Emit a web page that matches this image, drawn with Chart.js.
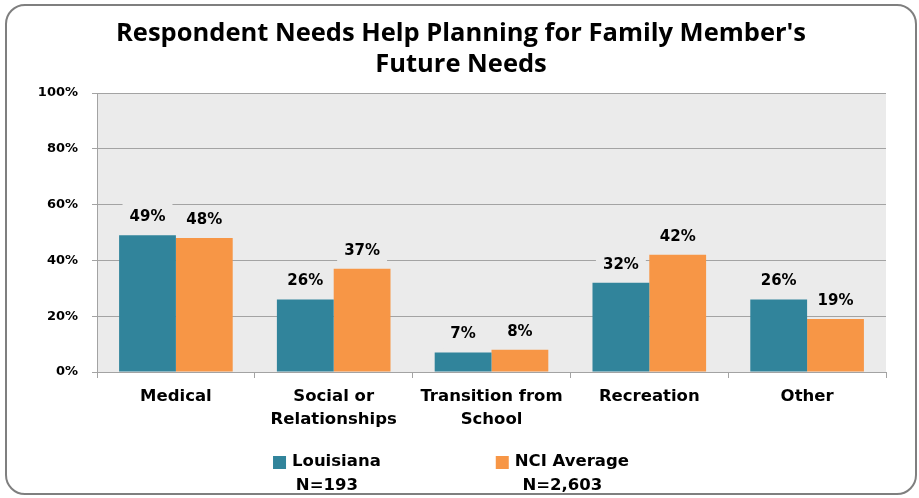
<!DOCTYPE html>
<html><head><meta charset="utf-8">
<script src="https://cdn.jsdelivr.net/npm/chart.js@4/dist/chart.umd.min.js"></script>
<style>
html,body{margin:0;padding:0;background:#fff;}
#wrap{position:relative;width:919px;height:498px;overflow:hidden;}
#frame{position:absolute;left:5px;top:4px;width:912px;height:491px;border:2px solid #7f7f7f;border-radius:20px;box-sizing:border-box;}
canvas{position:absolute;left:0;top:0;}
</style></head>
<body>
<div id="wrap"><div id="frame"></div><canvas id="c" width="919" height="498"></canvas></div>
<script>
const titleLines = ["Respondent Needs Help Planning for Family Member's", "Future Needs"];
const categories = [["Medical"], ["Social or", "Relationships"], ["Transition from", "School"], ["Recreation"], ["Other"]];
const louisiana = [49, 26, 7, 32, 26];
const nciAverage = [48, 37, 8, 42, 19];
const seriesNames = ["Louisiana", "NCI Average"];
const seriesNotes = ["N=193", "N=2,603"];
const seriesColors = ["#31849b", "#f79646"];
const yMin = 0, yMax = 100, yStep = 20;

const PLOT_BG = "#ebebeb";
const GRID = "#a3a3a3";
const LABEL_FONT = "bold 15px 'DejaVu Sans'";

const plotBg = {
  id: "plotBg",
  beforeDraw(chart) {
    const {ctx, chartArea: a} = chart;
    ctx.save();
    ctx.fillStyle = PLOT_BG;
    ctx.fillRect(a.left, a.top, a.right - a.left, a.bottom - a.top);
    ctx.restore();
  }
};

function labelBoxes(chart, cb) {
  chart.data.datasets.forEach((ds, di) => {
    const meta = chart.getDatasetMeta(di);
    meta.data.forEach((bar, i) => {
      cb(ds.data[i] + "%", bar.x, bar.y - 18);
    });
  });
}

const dataLabels = {
  id: "dataLabels",
  beforeDatasetsDraw(chart) {
    const ctx = chart.ctx;
    ctx.save();
    ctx.font = LABEL_FONT;
    ctx.fillStyle = PLOT_BG;
    labelBoxes(chart, (t, x, y) => {
      const w = ctx.measureText(t).width + 14;
      ctx.fillRect(x - w / 2, y - 14.5, w, 29);
    });
    ctx.restore();
  },
  afterDatasetsDraw(chart) {
    const ctx = chart.ctx;
    ctx.save();
    ctx.font = LABEL_FONT;
    ctx.fillStyle = "#000";
    ctx.textAlign = "center";
    ctx.textBaseline = "middle";
    labelBoxes(chart, (t, x, y) => ctx.fillText(t, x, y));
    ctx.restore();
  }
};

const customLegend = {
  id: "customLegend",
  afterDraw(chart) {
    const ctx = chart.ctx;
    ctx.save();
    ctx.font = "bold 16.5px 'DejaVu Sans'";
    ctx.textBaseline = "middle";
    const box = 13, gapText = 6, gapItems = 115;
    const items = chart.data.datasets.map((ds, i) => {
      const tw = ctx.measureText(ds.label).width;
      return {ds, i, w: box + gapText + tw};
    });
    const total = items.reduce((s, it) => s + it.w, 0) + gapItems * (items.length - 1);
    let x = 451 - total / 2;
    const y1 = 462, y2 = 486;
    items.forEach(it => {
      ctx.fillStyle = it.ds.backgroundColor;
      ctx.fillRect(x, y1 - 6, box, box);
      ctx.fillStyle = "#000";
      ctx.textAlign = "left";
      ctx.fillText(it.ds.label, x + box + gapText, y1);
      ctx.textAlign = "center";
      ctx.fillText(seriesNotes[it.i], x + it.w / 2, y2);
      x += it.w + gapItems;
    });
    ctx.restore();
  }
};

new Chart(document.getElementById("c"), {
  type: "bar",
  data: {
    labels: categories,
    datasets: [
      {label: seriesNames[0], data: louisiana, backgroundColor: seriesColors[0]},
      {label: seriesNames[1], data: nciAverage, backgroundColor: seriesColors[1]}
    ]
  },
  options: {
    responsive: false,
    animation: false,
    devicePixelRatio: 1,
    datasets: {bar: {barPercentage: 1.0, categoryPercentage: 0.72}},
    layout: {padding: {left: 36, right: 33, top: 0, bottom: 56}},
    plugins: {
      legend: {display: false},
      tooltip: {enabled: false},
      title: {
        display: true,
        text: titleLines,
        color: "#000",
        font: {family: "Open Sans", weight: "bold", size: 25.5, lineHeight: 1.22},
        padding: {top: 18.5, bottom: 12.3}
      }
    },
    scales: {
      x: {
        grid: {display: true, drawOnChartArea: false, drawTicks: true, tickLength: 6, offset: true, color: GRID},
        border: {color: GRID, width: 1},
        ticks: {color: "#000", padding: 7, maxRotation: 0, autoSkip: false,
          font: {family: "DejaVu Sans", weight: "bold", size: 16.5, lineHeight: 1.4}},
        afterFit(s) { s.height = 70; }
      },
      y: {
        min: yMin, max: yMax,
        grid: {color: GRID, tickLength: 5},
        border: {color: GRID, width: 1},
        ticks: {stepSize: yStep, color: "#000", padding: 14,
          font: {family: "DejaVu Sans", weight: "bold", size: 13},
          callback: v => v + "%"},
        afterFit(s) { s.width = 61; }
      }
    }
  },
  plugins: [plotBg, dataLabels, customLegend]
});
</script>
</body></html>
